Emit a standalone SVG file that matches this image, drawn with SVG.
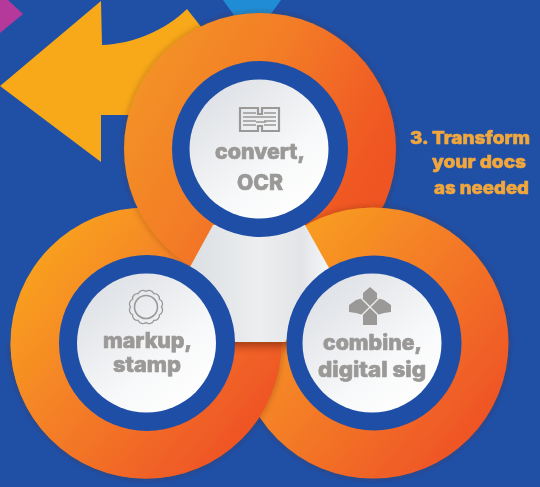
<svg xmlns="http://www.w3.org/2000/svg" width="540" height="487" viewBox="0 0 540 487">
<style>
.lbl{font-family:"Inter","Liberation Sans",sans-serif;font-weight:800;font-size:21.5px;fill:#9b9997;stroke:#9b9997;stroke-width:0.7;filter:url(#soft)}
.cap{font-family:"Inter","Liberation Sans",sans-serif;font-weight:800;font-size:18px;fill:#f2a73c;stroke:#f2a73c;stroke-width:0.6;filter:url(#soft)}
.ring{fill:#1f4ea6}
.ico{fill:none;stroke:#9b9997;stroke-width:1.6;filter:url(#soft)}
</style>
<defs>
<filter id="soft" x="-10%" y="-20%" width="120%" height="140%"><feGaussianBlur stdDeviation="0.5"/></filter>
<filter id="shadow" x="-10%" y="-10%" width="120%" height="120%"><feDropShadow dx="0" dy="0" stdDeviation="3" flood-color="#5a2205" flood-opacity="0.4"/></filter>
<linearGradient id="oT" x1="0" y1="0" x2="1" y2="0.55"><stop offset="0" stop-color="#f39a28"/><stop offset="0.5" stop-color="#f37c26"/><stop offset="0.85" stop-color="#f05c24"/><stop offset="1" stop-color="#ef5423"/></linearGradient>
<linearGradient id="oB" x1="0.05" y1="0.1" x2="0.95" y2="0.85"><stop offset="0" stop-color="#f9a71c"/><stop offset="0.45" stop-color="#f47f28"/><stop offset="1" stop-color="#ee4f24"/></linearGradient>
<linearGradient id="face" x1="0.1" y1="0.1" x2="0.8" y2="0.95"><stop offset="0" stop-color="#dde0e5"/><stop offset="0.65" stop-color="#f7f8f9"/><stop offset="1" stop-color="#ffffff"/></linearGradient>
<linearGradient id="hex" x1="0" y1="0" x2="1" y2="0"><stop offset="0" stop-color="#dcdfe3"/><stop offset="0.5" stop-color="#eceeef"/><stop offset="0.8" stop-color="#e2e4e7"/><stop offset="1" stop-color="#f6f7f8"/></linearGradient>
<linearGradient id="band" x1="0" y1="0" x2="0" y2="1"><stop offset="0" stop-color="#8a2f10" stop-opacity="0.75"/><stop offset="1" stop-color="#ee5523" stop-opacity="0"/></linearGradient>
<clipPath id="lower"><rect x="0" y="343" width="540" height="144"/></clipPath>
</defs>
<rect width="540" height="487" fill="#2050a6"/>
<g id="background-shapes">
<polygon points="8,0 23,14 0,33 0,0" fill="#b4399b"/>
<polygon points="223,0 281,0 252,40" fill="#1f8dd6"/>
<path d="M0,86 L101,1 L102,45 C133,44 166,30 187,9 L202,28 L202,115 L101,115 L101,162 Z" fill="#f8a91a"/>
</g>
<g id="discs">
<circle cx="146" cy="343" r="135.5" fill="url(#oB)"/>
<circle cx="260" cy="149" r="136" fill="url(#oT)" filter="url(#shadow)"/>
<circle cx="373" cy="343" r="135.5" fill="url(#oB)" filter="url(#shadow)"/>
<g clip-path="url(#lower)"><circle cx="146" cy="343" r="135.5" fill="url(#oB)" filter="url(#shadow)"/></g>
</g>
<g id="center">
<polygon points="213,225 305,225 329,268 285,342 235,342 190,267" fill="url(#hex)"/>
<rect x="232" y="342" width="56" height="14" fill="url(#band)"/>
</g>
<g id="node-convert">
<circle class="ring" cx="260" cy="149" r="88"/>
<circle cx="259" cy="149" r="69.5" fill="url(#face)"/>
<g class="ico">
<path d="M240,108 H258 V114 H262 V108 H279 V131 H262 V126 H258 V131 H240 Z" stroke-width="2.2"/>
<path d="M243,113 H256 M243,117 H256 M243,121 H256 M243,125 H256 M264,113 H276 M264,117 H276 M264,121 H276 M264,125 H276 M256,117 H266 M256,122 H266" stroke-width="1.3"/>
</g>
<text class="lbl" x="260" y="159" text-anchor="middle" textLength="90" lengthAdjust="spacingAndGlyphs">convert,</text>
<text class="lbl" x="260" y="190" text-anchor="middle" textLength="46" lengthAdjust="spacingAndGlyphs">OCR</text>
</g>
<g id="node-markup">
<circle class="ring" cx="147" cy="343" r="88"/>
<circle cx="146.5" cy="343" r="69.5" fill="url(#face)"/>
<g class="ico">
<circle cx="146" cy="307" r="11.5"/>
<path d="M161.5,307 A5 5 0 0 1 159.4,314.75 A5 5 0 0 1 153.75,320.4 A5 5 0 0 1 146,322.5 A5 5 0 0 1 138.25,320.4 A5 5 0 0 1 132.6,314.75 A5 5 0 0 1 130.5,307 A5 5 0 0 1 132.6,299.25 A5 5 0 0 1 138.25,293.6 A5 5 0 0 1 146,291.5 A5 5 0 0 1 153.75,293.6 A5 5 0 0 1 159.4,299.25 A5 5 0 0 1 161.5,307 Z" stroke-width="1.3"/>
</g>
<text class="lbl" x="147.5" y="348" text-anchor="middle" textLength="89" lengthAdjust="spacingAndGlyphs">markup,</text>
<text class="lbl" x="147" y="372" text-anchor="middle" textLength="68" lengthAdjust="spacingAndGlyphs">stamp</text>
</g>
<g id="node-combine">
<circle class="ring" cx="374" cy="343" r="87.5"/>
<circle cx="372" cy="343" r="69.5" fill="url(#face)"/>
<path d="M370,287 L377,293 V298 L384,300 L391,305 V312 L384,313 L377,315 V325 H363 V315 L356,313 L349,312 V305 L356,300 L363,298 V293 Z" fill="#9b9997" filter="url(#soft)"/>
<path d="M361,298 L379,316 M379,298 L361,316" stroke="#eceef0" stroke-width="1.3" fill="none"/>
<text class="lbl" x="372.5" y="350" text-anchor="middle" textLength="99" lengthAdjust="spacingAndGlyphs">combine,</text>
<text class="lbl" x="372" y="377" text-anchor="middle" textLength="108" lengthAdjust="spacingAndGlyphs">digital sig</text>
</g>
<g id="caption">
<text class="cap" x="470" y="144" text-anchor="middle" textLength="120" lengthAdjust="spacingAndGlyphs">3. Transform</text>
<text class="cap" x="479" y="168" text-anchor="middle" textLength="94" lengthAdjust="spacingAndGlyphs">your docs</text>
<text class="cap" x="481.5" y="194" text-anchor="middle" textLength="95" lengthAdjust="spacingAndGlyphs">as needed</text>
</g>
</svg>
